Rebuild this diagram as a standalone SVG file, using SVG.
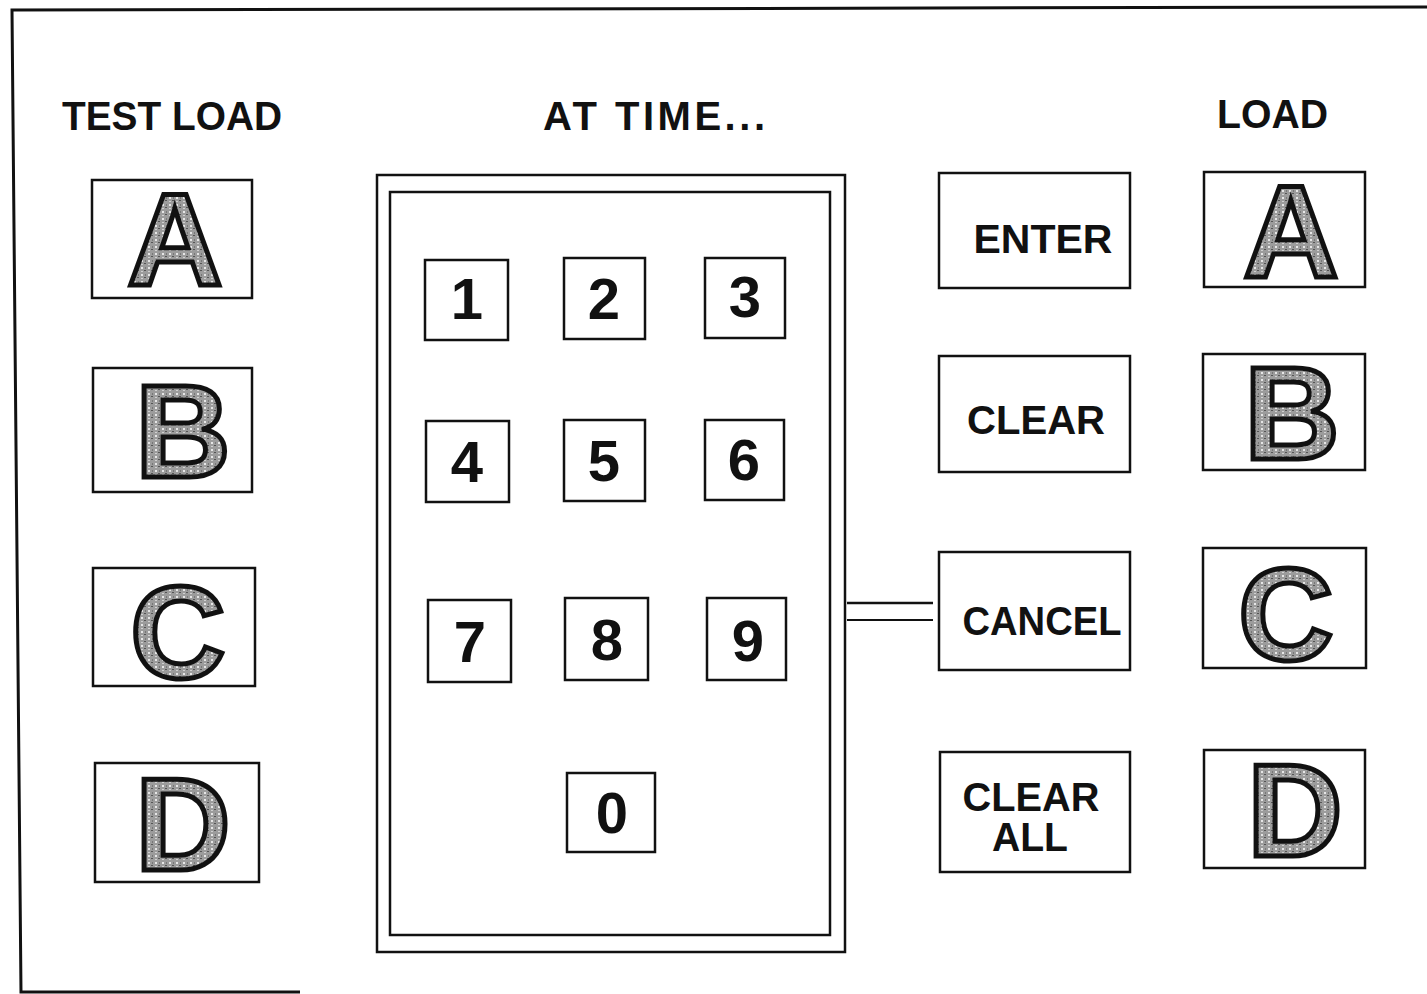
<svg xmlns="http://www.w3.org/2000/svg" width="1427" height="994" viewBox="0 0 1427 994">
<style>
.box{fill:#fff;stroke:#111;stroke-width:2.5}
.lbl{font-family:"Liberation Sans",Arial,sans-serif;font-weight:bold;fill:#111}
.big{font-family:"Liberation Sans",Arial,sans-serif;font-weight:bold;font-size:132px;fill:url(#speck);stroke:#111;stroke-width:5;text-anchor:middle}
.dig{font-family:"Liberation Sans",Arial,sans-serif;font-weight:bold;font-size:58px;fill:#111;text-anchor:middle}
.btn{font-family:"Liberation Sans",Arial,sans-serif;font-weight:bold;font-size:40px;fill:#111;text-anchor:middle}
.frame{fill:none;stroke:#111;stroke-width:3}
</style>
<defs>
<pattern id="speck" width="7" height="7" patternUnits="userSpaceOnUse">
<rect width="7" height="7" fill="#9c9c9c"/>
<rect x="1" y="1" width="2" height="2" fill="#e6e6e6"/>
<rect x="4" y="4" width="2" height="1" fill="#555"/>
<rect x="5" y="1" width="1" height="2" fill="#777"/>
<rect x="1" y="5" width="2" height="1" fill="#d0d0d0"/>
</pattern>
</defs>
<rect width="1427" height="994" fill="#fff"/>
<g id="frame">
<path class="frame" d="M1427,7 L12,10 L21,992 L300,992"/>
</g>
<g id="headings">
<text class="lbl" x="62" y="130" font-size="40" textLength="220" lengthAdjust="spacingAndGlyphs">TEST LOAD</text>
<text class="lbl" x="543" y="130" font-size="40" textLength="222" lengthAdjust="spacing">AT TIME...</text>
<text class="lbl" x="1217" y="128" font-size="40" textLength="111" lengthAdjust="spacingAndGlyphs">LOAD</text>
</g>
<g id="test-a"><rect class="box" x="92" y="180" width="160" height="118"/><text class="big" x="175" y="285">A</text></g>
<g id="test-b"><rect class="box" x="93" y="368" width="159" height="124"/><text class="big" x="183" y="477">B</text></g>
<g id="test-c"><rect class="box" x="93" y="568" width="162" height="118"/><text class="big" x="178" y="678">C</text></g>
<g id="test-d"><rect class="box" x="95" y="763" width="164" height="119"/><text class="big" x="183" y="870">D</text></g>
<g id="keypad">
<rect class="box" x="377" y="175" width="468" height="777" stroke-width="3"/>
<rect class="box" x="390" y="192" width="440" height="743" stroke-width="3"/>
</g>
<g id="key-1"><rect class="box" x="425" y="260" width="83" height="80"/><text class="dig" x="467" y="319">1</text></g>
<g id="key-2"><rect class="box" x="564" y="258" width="81" height="81"/><text class="dig" x="604" y="319">2</text></g>
<g id="key-3"><rect class="box" x="705" y="258" width="80" height="80"/><text class="dig" x="745" y="317">3</text></g>
<g id="key-4"><rect class="box" x="426" y="421" width="83" height="81"/><text class="dig" x="467" y="482">4</text></g>
<g id="key-5"><rect class="box" x="564" y="420" width="81" height="81"/><text class="dig" x="604" y="481">5</text></g>
<g id="key-6"><rect class="box" x="705" y="420" width="79" height="80"/><text class="dig" x="744" y="480">6</text></g>
<g id="key-7"><rect class="box" x="428" y="600" width="83" height="82"/><text class="dig" x="470" y="662">7</text></g>
<g id="key-8"><rect class="box" x="565" y="598" width="83" height="82"/><text class="dig" x="607" y="660">8</text></g>
<g id="key-9"><rect class="box" x="707" y="598" width="79" height="82"/><text class="dig" x="748" y="661">9</text></g>
<g id="key-0"><rect class="box" x="567" y="773" width="88" height="79"/><text class="dig" x="612" y="833">0</text></g>
<g id="connectors">
<line x1="847" y1="603" x2="933" y2="603" stroke="#111" stroke-width="2.5"/>
<line x1="847" y1="620" x2="933" y2="620" stroke="#111" stroke-width="2"/>
</g>
<g id="enter"><rect class="box" x="939" y="173" width="191" height="115"/><text class="btn" x="1043" y="253" textLength="139" lengthAdjust="spacingAndGlyphs">ENTER</text></g>
<g id="clear"><rect class="box" x="939" y="356" width="191" height="116"/><text class="btn" x="1036" y="434" textLength="138" lengthAdjust="spacingAndGlyphs">CLEAR</text></g>
<g id="cancel"><rect class="box" x="939" y="552" width="191" height="118"/><text class="btn" x="1042" y="635" textLength="159" lengthAdjust="spacingAndGlyphs">CANCEL</text></g>
<g id="clear-all"><rect class="box" x="940" y="752" width="190" height="120"/><text class="btn" x="1031" y="811" textLength="137" lengthAdjust="spacingAndGlyphs">CLEAR</text><text class="btn" x="1030" y="851" textLength="76" lengthAdjust="spacingAndGlyphs">ALL</text></g>
<g id="load-a"><rect class="box" x="1204" y="172" width="161" height="115"/><text class="big" x="1291" y="277">A</text></g>
<g id="load-b"><rect class="box" x="1203" y="354" width="162" height="116"/><text class="big" x="1292" y="459">B</text></g>
<g id="load-c"><rect class="box" x="1203" y="548" width="163" height="120"/><text class="big" x="1286" y="660">C</text></g>
<g id="load-d"><rect class="box" x="1204" y="750" width="161" height="118"/><text class="big" x="1295" y="856">D</text></g>
</svg>
